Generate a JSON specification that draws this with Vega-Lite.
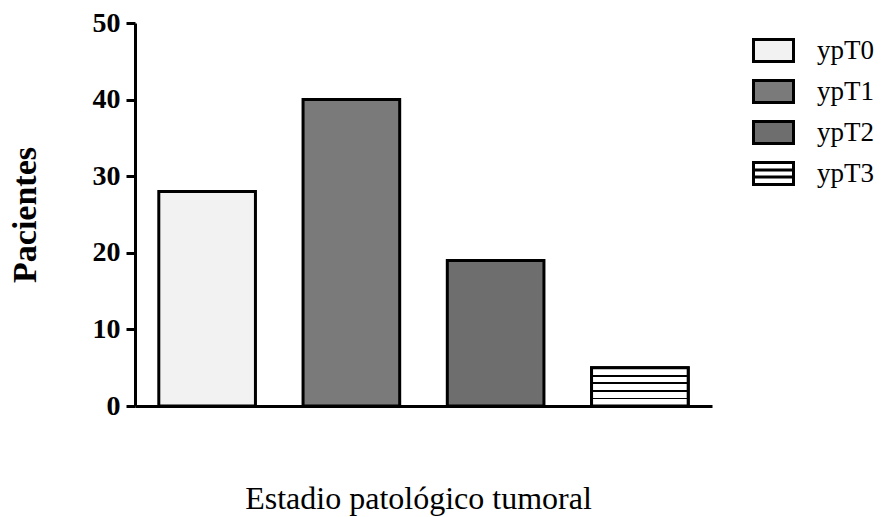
{
  "$schema": "https://vega.github.io/schema/vega-lite/v6.json",
  "width": 577,
  "height": 383,
  "autosize": {"type": "none"},
  "padding": {"left": 135, "top": 23, "right": 171, "bottom": 111},
  "background": "white",
  "config": {"font": "Liberation Serif", "view": {"stroke": null}},
  "data": {
    "values": [
      {"estadio": "ypT0", "pacientes": 28},
      {"estadio": "ypT1", "pacientes": 40},
      {"estadio": "ypT2", "pacientes": 19},
      {"estadio": "ypT3", "pacientes": 5}
    ]
  },
  "encoding": {
    "x": {
      "field": "estadio",
      "type": "nominal",
      "sort": null,
      "scale": {"paddingInner": 0.33, "paddingOuter": 0.165},
      "axis": {
        "title": "Estadio patológico tumoral",
        "labels": false,
        "ticks": false,
        "domainColor": "black",
        "domainWidth": 3,
        "titleFont": "Liberation Serif",
        "titleFontSize": 32,
        "titleFontWeight": "normal",
        "titleColor": "black",
        "titleX": 283,
        "titleY": 102,
        "titleBaseline": "alphabetic"
      }
    },
    "y": {
      "field": "pacientes",
      "type": "quantitative",
      "scale": {"domain": [0, 50], "nice": false},
      "axis": {
        "title": "Pacientes",
        "values": [0, 10, 20, 30, 40, 50],
        "grid": false,
        "domainColor": "black",
        "domainWidth": 3,
        "tickColor": "black",
        "tickWidth": 3,
        "tickSize": 9,
        "labelPadding": 6,
        "labelFont": "Liberation Serif",
        "labelFontWeight": "bold",
        "labelFontSize": 28,
        "labelColor": "black",
        "titleFont": "Liberation Serif",
        "titleFontSize": 34,
        "titleFontWeight": "bold",
        "titleColor": "black",
        "titleX": -100,
        "titleBaseline": "alphabetic"
      }
    }
  },
  "layer": [
    {
      "mark": {"type": "bar", "stroke": "black", "strokeWidth": 3},
      "encoding": {
        "fill": {
          "field": "estadio",
          "type": "nominal",
          "scale": {
            "domain": ["ypT0", "ypT1", "ypT2", "ypT3"],
            "range": ["#f2f2f2", "#7a7a7a", "#6e6e6e", "#ffffff"]
          },
          "legend": {
            "title": null,
            "orient": "none",
            "legendX": 617,
            "legendY": 6,
            "symbolType": "M-1,-0.55H1V0.55H-1Z",
            "symbolSize": 1600,
            "symbolStrokeColor": "black",
            "symbolStrokeWidth": 3,
            "symbolOpacity": 1,
            "labelFont": "Liberation Serif",
            "labelFontSize": 27,
            "labelColor": "black",
            "labelOffset": 22,
            "rowPadding": 2,
            "encode": {
              "symbols": {
                "update": {
                  "stroke": {"value": "black"},
                  "strokeWidth": {"value": 3},
                  "shape": [
                    {"test": "datum.value === 'ypT3'", "value": "M-1,-0.55H1V0.55H-1ZM-1,-0.18H1M-1,0.18H1"},
                    {"value": "M-1,-0.55H1V0.55H-1Z"}
                  ]
                }
              }
            }
          }
        }
      }
    },
    {
      "transform": [{"filter": "datum.estadio === 'ypT3'"}],
      "mark": {
        "type": "bar",
        "stroke": "black",
        "strokeWidth": 3,
        "color": {
          "gradient": "linear",
          "x1": 0, "y1": 0, "x2": 0, "y2": 1,
          "stops": [
            {"offset": 0, "color": "white"},
            {"offset": 0.18, "color": "white"},
            {"offset": 0.18, "color": "black"},
            {"offset": 0.23, "color": "black"},
            {"offset": 0.23, "color": "white"},
            {"offset": 0.38, "color": "white"},
            {"offset": 0.38, "color": "black"},
            {"offset": 0.43, "color": "black"},
            {"offset": 0.43, "color": "white"},
            {"offset": 0.58, "color": "white"},
            {"offset": 0.58, "color": "black"},
            {"offset": 0.63, "color": "black"},
            {"offset": 0.63, "color": "white"},
            {"offset": 0.78, "color": "white"},
            {"offset": 0.78, "color": "black"},
            {"offset": 0.83, "color": "black"},
            {"offset": 0.83, "color": "white"},
            {"offset": 1, "color": "white"}
          ]
        }
      },
      "encoding": {}
    }
  ]
}
